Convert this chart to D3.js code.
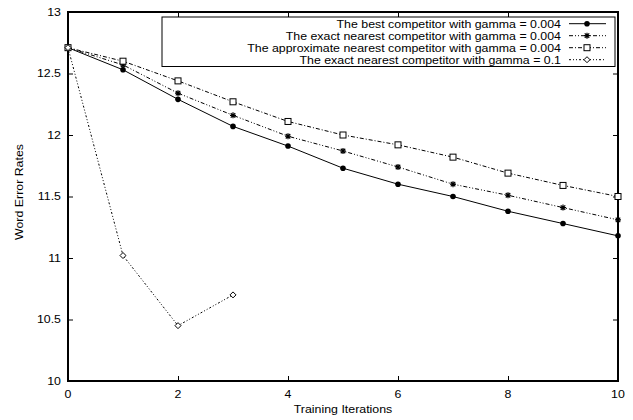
<!DOCTYPE html>
<html>
<head>
<meta charset="utf-8">
<script src="https://cdn.jsdelivr.net/npm/d3@7"></script>
<style>
  body { margin: 0; background: #fff; }
  text { font-family: "Liberation Sans", Arial, sans-serif; }
</style>
</head>
<body>
<div id="chart"></div>
<script>
// iterations and word error rates for each run
const iterations = [0, 1, 2, 3, 4, 5, 6, 7, 8, 9, 10];
const bestValues = [12.71, 12.53, 12.29, 12.07, 11.91, 11.73, 11.60, 11.50, 11.38, 11.28, 11.18];
const exactValues = [12.71, 12.57, 12.34, 12.16, 11.99, 11.87, 11.74, 11.60, 11.51, 11.41, 11.31];
const approxValues = [12.71, 12.60, 12.44, 12.27, 12.11, 12.00, 11.92, 11.82, 11.69, 11.59, 11.50];
const bigGammaIterations = [0, 1, 2, 3];
const bigGammaValues = [12.71, 11.02, 10.45, 10.70];

const seriesNames = [
  "The best competitor with gamma = 0.004",
  "The exact nearest competitor with gamma = 0.004",
  "The approximate nearest competitor with gamma = 0.004",
  "The exact nearest competitor with gamma = 0.1"
];
const xTicks = [0, 2, 4, 6, 8, 10];
const yTicks = [10, 10.5, 11, 11.5, 12, 12.5, 13];

const series = [
  { name: seriesNames[0], xs: iterations, ys: bestValues, dash: null, marker: "circle" },
  { name: seriesNames[1], xs: iterations, ys: exactValues, dash: "4,2,1,2,1,2", marker: "star" },
  { name: seriesNames[2], xs: iterations, ys: approxValues, dash: "4,2,1,2", marker: "square" },
  { name: seriesNames[3], xs: bigGammaIterations, ys: bigGammaValues, dash: "2,2,1,2,1,2", marker: "diamond" }
];

const width = 633, height = 420;
const plotLeft = 68, plotRight = 618, plotTop = 12, plotBottom = 381;
// the original fonts are wide for their height, so text is stretched along its run
const stretch = 1.19;
const fontSize = 10.4;

const svg = d3.select("#chart").append("svg")
  .attr("width", width)
  .attr("height", height);

const x = d3.scaleLinear().domain([0, 10]).range([plotLeft, plotRight]);
const y = d3.scaleLinear().domain([10, 13]).range([plotBottom, plotTop]);

// place a stretched text with its anchor at (tx, ty)
const addText = (g, tx, ty, str, anchor, angle = 0) => g.append("text")
  .attr("transform", `translate(${tx},${ty}) rotate(${angle}) scale(${stretch},1)`)
  .attr("text-anchor", anchor)
  .attr("font-size", fontSize)
  .attr("fill", "#000")
  .text(str);

// inward ticks on all four sides, gnuplot style
const tickLen = 5;
const xAxis = svg.append("g")
  .attr("transform", `translate(0,${plotBottom})`)
  .call(d3.axisBottom(x).tickValues(xTicks).tickSizeInner(-tickLen).tickSizeOuter(0).tickFormat(""));
const xAxisTop = svg.append("g")
  .attr("transform", `translate(0,${plotTop})`)
  .call(d3.axisTop(x).tickValues(xTicks).tickSizeInner(-tickLen).tickSizeOuter(0).tickFormat(""));
const yAxis = svg.append("g")
  .attr("transform", `translate(${plotLeft},0)`)
  .call(d3.axisLeft(y).tickValues(yTicks).tickSizeInner(-tickLen).tickSizeOuter(0).tickFormat(""));
const yAxisRight = svg.append("g")
  .attr("transform", `translate(${plotRight},0)`)
  .call(d3.axisRight(y).tickValues(yTicks).tickSizeInner(-tickLen).tickSizeOuter(0).tickFormat(""));

[xAxis, xAxisTop, yAxis, yAxisRight].forEach(a => {
  a.select(".domain").remove();
  a.selectAll(".tick line").attr("stroke", "#000").attr("stroke-width", 1);
});

// tick labels
const labels = svg.append("g");
xTicks.forEach(t => addText(labels, x(t), plotBottom + 16.5, d3.format("d")(t), "middle"));
yTicks.forEach(t => addText(labels, plotLeft - 7, y(t) + 3.7, d3.format("")(t), "end"));

// frame
svg.append("rect")
  .attr("x", plotLeft).attr("y", plotTop)
  .attr("width", plotRight - plotLeft).attr("height", plotBottom - plotTop)
  .attr("fill", "none").attr("stroke", "#000").attr("stroke-width", 2);

// axis titles
addText(svg, (plotLeft + plotRight) / 2, 413, "Training Iterations", "middle");
addText(svg, 23, 192, "Word Error Rates", "middle", -90);

const drawMarker = (g, type, cx, cy) => {
  if (type === "circle") {
    g.append("circle").attr("cx", cx).attr("cy", cy).attr("r", 2.8).attr("fill", "#000");
  } else if (type === "square") {
    g.append("rect").attr("x", cx - 3).attr("y", cy - 3).attr("width", 6).attr("height", 6)
      .attr("fill", "#fff").attr("stroke", "#000").attr("stroke-width", 1);
  } else if (type === "diamond") {
    g.append("path").attr("d", `M${cx},${cy - 3}L${cx + 3},${cy}L${cx},${cy + 3}L${cx - 3},${cy}Z`)
      .attr("fill", "#fff").attr("stroke", "#000").attr("stroke-width", 1);
  } else if (type === "star") {
    const r = 3;
    g.append("path")
      .attr("d", `M${cx - r},${cy}H${cx + r}M${cx},${cy - r}V${cy + r}M${cx - r * 0.75},${cy - r * 0.75}L${cx + r * 0.75},${cy + r * 0.75}M${cx - r * 0.75},${cy + r * 0.75}L${cx + r * 0.75},${cy - r * 0.75}`)
      .attr("stroke", "#000").attr("stroke-width", 1.2);
  }
};

const line = d3.line().x(d => x(d[0])).y(d => y(d[1]));

series.forEach(s => {
  const pts = s.xs.map((v, i) => [v, s.ys[i]]);
  const g = svg.append("g");
  g.append("path")
    .attr("d", line(pts))
    .attr("fill", "none")
    .attr("stroke", "#000")
    .attr("stroke-width", 1)
    .attr("stroke-dasharray", s.dash);
  pts.forEach(p => drawMarker(g, s.marker, x(p[0]), y(p[1])));
});

// legend
const legend = svg.append("g");
legend.append("rect")
  .attr("x", 162).attr("y", 17)
  .attr("width", 453).attr("height", 49.5)
  .attr("fill", "#fff").attr("stroke", "#000").attr("stroke-width", 1);

series.forEach((s, i) => {
  const ly = 23.7 + i * 12;
  addText(legend, 561, ly + 3.8, s.name, "end");
  legend.append("line")
    .attr("x1", 569).attr("x2", 606)
    .attr("y1", ly).attr("y2", ly)
    .attr("stroke", "#000").attr("stroke-width", 1)
    .attr("stroke-dasharray", s.dash);
  drawMarker(legend, s.marker, 587, ly);
});
</script>
</body>
</html>
